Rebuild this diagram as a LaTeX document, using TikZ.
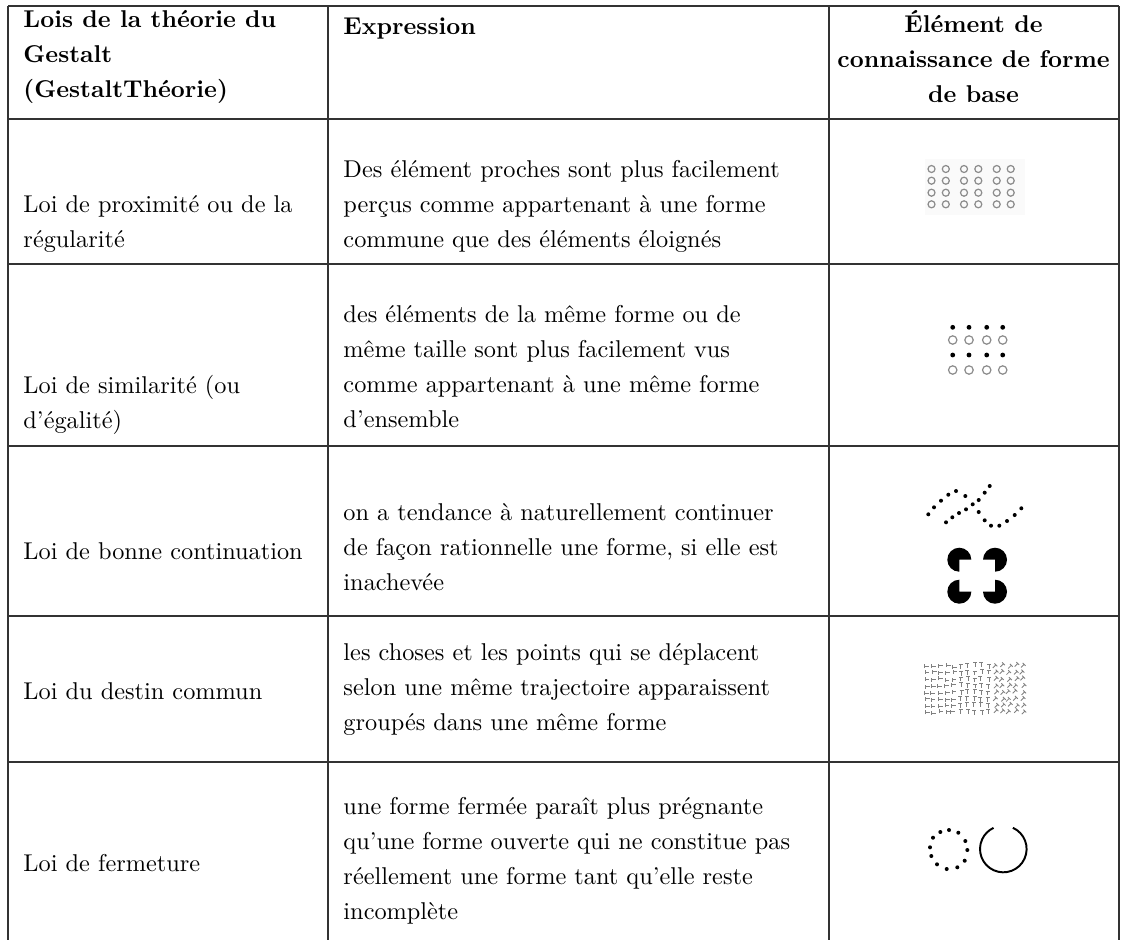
\documentclass[tikz,border=0pt]{standalone}
\usepackage{fontspec}
\begin{document}
\begin{tikzpicture}[x=0.41152pt,y=-0.41152pt,
  rule/.style={line width=0.55pt, draw=black!80},
  cell/.style={inner sep=0pt, align=left, font=\fontsize{10}{14.4}\selectfont,
    execute at begin node=\strut, execute at end node=\strut},
  head/.style={cell, font=\fontsize{10}{14.4}\selectfont\bfseries},
  ring/.style={draw=black!45, line width=0.5pt},
  dot/.style={fill=black},
  tex/.style={draw=black!50, line width=0.35pt}]
\useasboundingbox (0,0) rectangle (1127,940);
% table rules
\draw[rule] (8,6) -- (1119,6);
\foreach \y in {119,264,446,616,762} \draw[rule] (8,\y) -- (1119,\y);
\foreach \x in {8,328,829,1119} \draw[rule] (\x,6) -- (\x,940);
% header
\node[head, anchor=north west] (h1) at (23,10) {Lois de la théorie du\\Gestalt\\(GestaltThéorie)};
\node[head, anchor=north west] (h2) at (343,10) {Expression};
\node[head, anchor=north, align=center] (h3) at (973.5,10) {Élément de\\connaissance de forme\\de base};
% rows
\node[cell, anchor=west] (l1) at (23,227) {Loi de proximité ou de la\\régularité};
\node[cell, anchor=west] (e1) at (343,209.5) {Des élément proches sont plus facilement\\perçus comme appartenant à une forme\\commune que des éléments éloignés};
\node[cell, anchor=west] (l2) at (23,407) {Loi de similarité (ou\\d'égalité)};
\node[cell, anchor=west] (e2) at (343,372) {des éléments de la même forme ou de\\même taille sont plus facilement vus\\comme appartenant à une même forme\\d'ensemble};
\node[cell, anchor=west] (l3) at (23,552) {Loi de bonne continuation};
\node[cell, anchor=west] (e3) at (343,552) {on a tendance à naturellement continuer\\de façon rationnelle une forme, si elle est\\inachevée};
\node[cell, anchor=west] (l4) at (23,692) {Loi du destin commun};
\node[cell, anchor=west] (e4) at (343,692) {les choses et les points qui se déplacent\\selon une même trajectoire apparaissent\\groupés dans une même forme};
\node[cell, anchor=west] (l5) at (23,864) {Loi de fermeture};
\node[cell, anchor=west] (e5) at (343,864) {une forme fermée paraît plus prégnante\\qu'une forme ouverte qui ne constitue pas\\réellement une forme tant qu'elle reste\\incomplète};
% proximity figure
\fill[black!2] (925,159) rectangle (1025,215);
\foreach \x in {931.5,945.8,964,978.3,996.7,1010.7}
  \foreach \y in {169,180.7,192.7,204.3}
    \draw[ring] (\x,\y) circle (3.5);
% similarity figure
\foreach \x in {952.7,969,986.7,1002.7} {
  \fill[dot] (\x,327.3) circle (2.4);
  \draw[ring] (\x,340) circle (4.2);
  \fill[dot] (\x,355) circle (2.4);
  \draw[ring] (\x,370) circle (4.2);
}
% good continuation: dotted lines
\foreach \p in {(928.3,514.3),(934,507.3),(941,500.7),(948.3,494.7),(956,491),(965.3,496),(972.7,504.3),(978.7,512),(984.7,520.3),(991,525.7),(999.3,525.7),(1007,521),(1014.7,515),(1021.3,508.3),
  (946,522.3),(952.3,517.3),(959,513),(966,509.3),(978.7,500),(984.7,492.7),(989.7,486)}
  \fill[dot] \p circle (2);
% Kanizsa
\fill (959.3,559.7) -- ++(90:12) arc[start angle=90, end angle=360, radius=12] -- cycle;
\fill (995,559.7) -- ++(180:12) arc[start angle=180, end angle=450, radius=12] -- cycle;
\fill (959.3,591.7) -- ++(0:12) arc[start angle=0, end angle=270, radius=12] -- cycle;
\fill (995,591.7) -- ++(270:12) arc[start angle=270, end angle=540, radius=12] -- cycle;
% common fate texture
\pgfmathsetseed{7}
\foreach \i in {0,...,14} {
  \foreach \j in {0,...,7} {
    \pgfmathsetmacro{\xx}{927+\i*6.8+rand*1.2}
    \pgfmathsetmacro{\yy}{666+\j*6.6+rand*1.0}
    \pgfmathsetmacro{\rr}{\i<5 ? 90 : (\i<10 ? 0 : -45)}
    \draw[tex, shift={(\xx,\yy)}, rotate=\rr] (-2,-2.2) -- (2,-2.2) (0,-2.2) -- (0,2.2);
  }
}
% closure
\foreach \p in {(949,830),(958.3,832.7),(965.3,841),(967.3,850),(964.7,860.7),(957.3,867.3),(946.7,869),(937,864.3),(931.3,856),(930,847.3),(933,837.7),(940.3,832)}
  \fill[dot] \p circle (2);
\draw[line width=0.8pt] (1003.3,849) ++(294.3:23.3) arc[start angle=294.3, end angle=605.2, radius=23.3];
\end{tikzpicture}
\end{document}
